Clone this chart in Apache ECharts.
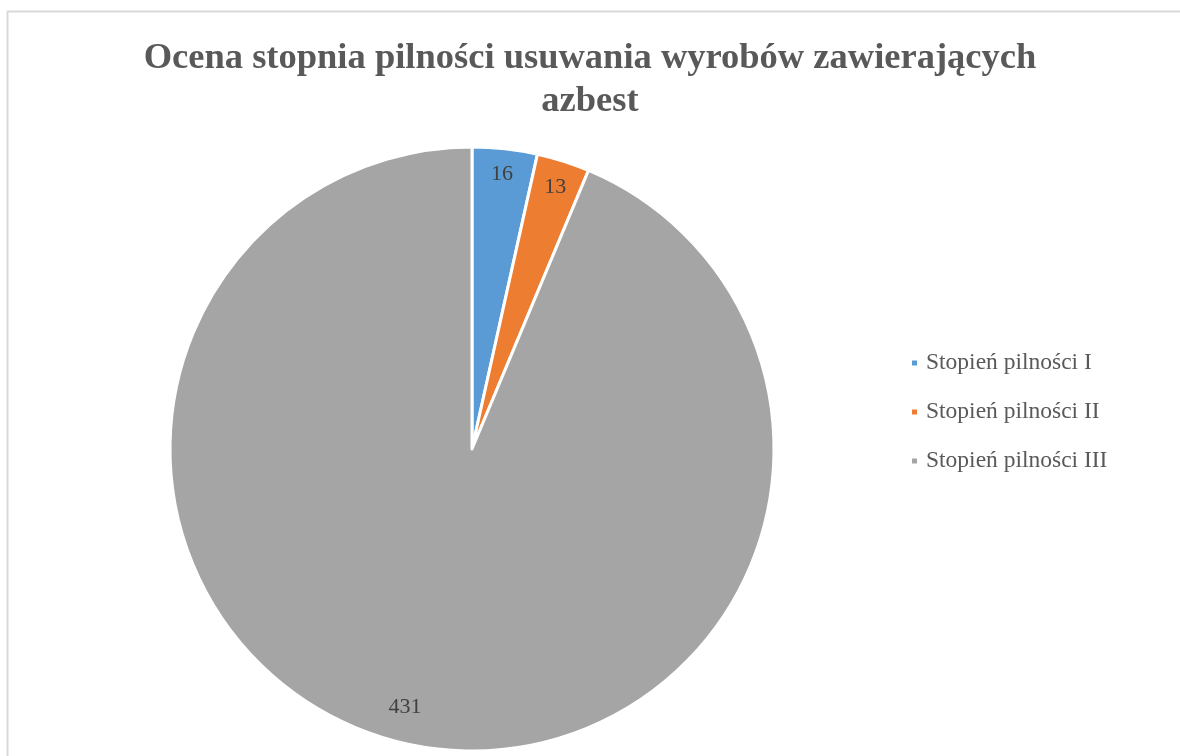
<!DOCTYPE html>
<html><head><meta charset="utf-8">
<script src="https://cdn.jsdelivr.net/npm/echarts@6/dist/echarts.min.js"></script>
<style>html,body{margin:0;padding:0;background:#fff}#c{width:1180px;height:756px}</style>
</head><body><div id="c"></div>
<script>
const categories = ['Stopień pilności I', 'Stopień pilności II', 'Stopień pilności III'];
const values = [16, 13, 431];
const colors = ['#5B9BD5', '#ED7D31', '#A5A5A5'];
const titleText = 'Ocena stopnia pilności usuwania wyrobów zawierających\nazbest';

const data = categories.map((n, i) => ({ name: n, value: values[i], itemStyle: { color: colors[i] } }));
const R = 302;
const labelNudge = [[0, -2], [0, 0], [-13, -11]];
const chart = echarts.init(document.getElementById('c'));
chart.setOption({
  animation: false,
  backgroundColor: '#fff',
  graphic: [{
    type: 'rect', shape: { x: 7.5, y: 11.5, width: 1200, height: 800 },
    style: { fill: 'none', stroke: '#d9d9d9', lineWidth: 2 }, silent: true, z: -10
  }],
  title: {
    text: titleText, left: 'center', top: 32,
    textStyle: { fontFamily: 'Liberation Serif', fontWeight: 'bold', fontSize: 36.5, color: '#595959', lineHeight: 43 }
  },
  legend: {
    orient: 'vertical', left: 905, top: 346, icon: 'rect', itemWidth: 7, itemHeight: 7, itemGap: 25,
    data: categories,
    textStyle: { fontFamily: 'Liberation Serif', fontSize: 23.5, color: '#595959', padding: [0, 0, 0, 3] }
  },
  series: [{
    type: 'pie', center: [472, 449], radius: [0, R], startAngle: 90, clockwise: true,
    data: data, label: { show: false }, labelLine: { show: false },
    itemStyle: { borderColor: '#fff', borderWidth: 3 }, silent: true
  }, {
    type: 'pie', center: [472, 449], radius: [R * 0.80, R], startAngle: 90, clockwise: true,
    avoidLabelOverlap: false,
    data: categories.map((n, i) => ({ name: n, value: values[i] })),
    itemStyle: { color: 'rgba(0,0,0,0)' }, silent: true, legendHoverLink: false,
    label: { show: true, position: 'inside', formatter: '{c}', fontFamily: 'Liberation Serif', fontSize: 22, color: '#404040' },
    labelLine: { show: false },
    labelLayout: function (p) { const n = labelNudge[p.dataIndex] || [0, 0]; return { dx: n[0], dy: n[1], hideOverlap: false }; }
  }]
});
</script></body></html>
